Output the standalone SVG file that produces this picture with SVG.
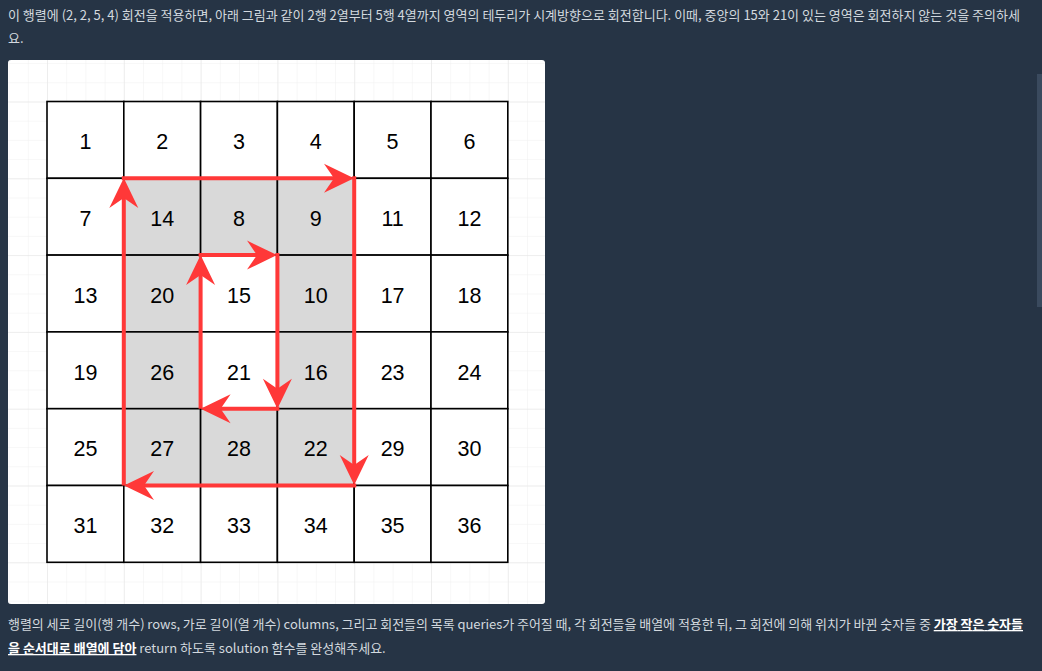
<svg xmlns="http://www.w3.org/2000/svg" width="1042" height="671" viewBox="0 0 1042 671">
<style>
.para{font-family:"Noto Sans CJK KR","Noto Sans",sans-serif;font-size:13px;fill:#d3d9df}
.strong{font-weight:bold;fill:#ffffff;text-decoration:underline}
.num{font-family:"Liberation Sans",Arial,sans-serif;font-size:21.5px;fill:#000;text-anchor:middle}
.cell{stroke:#000;stroke-width:1.6}
.arrow{stroke:#ff3838;stroke-width:4;fill:none}
</style>
<defs>
<pattern id="minor" patternUnits="userSpaceOnUse" x="47" y="101.5" width="19.2" height="19.2">
<path d="M0,0 H19.2 M0,0 V19.2" stroke="#efefef" stroke-width="1" fill="none"/>
</pattern>
<pattern id="major" patternUnits="userSpaceOnUse" x="47" y="101.5" width="76.8" height="76.8">
<path d="M0,0 H76.8 M0,0 V76.8" stroke="#e3e3e3" stroke-width="1" fill="none"/>
</pattern>
<clipPath id="panelClip"><rect x="8" y="60" width="537" height="544" rx="3"/></clipPath>
<marker id="head" markerUnits="userSpaceOnUse" viewBox="-30 -16 42 32" markerWidth="42" markerHeight="32" refX="0" refY="0" orient="auto" overflow="visible">
<path d="M8,0 L-22,-14.5 L-12,0 L-22,14.5 Z" fill="#ff3838"/>
</marker>
</defs>
<rect width="1042" height="671" fill="#263445"/>
<rect x="1037" y="74" width="5" height="233" fill="#3a4a5e"/>
<text class="para" x="8" y="20">이 행렬에 (2, 2, 5, 4) 회전을 적용하면, 아래 그림과 같이 2행 2열부터 5행 4열까지 영역의 테두리가 시계방향으로 회전합니다. 이때, 중앙의 15와 21이 있는 영역은 회전하지 않는 것을 주의하세</text>
<text class="para" x="8" y="43">요.</text>
<g id="panel">
<rect x="8" y="60" width="537" height="544" rx="3" fill="#ffffff"/>
<g clip-path="url(#panelClip)">
<rect x="8" y="60" width="537" height="544" fill="url(#minor)"/>
<rect x="8" y="60" width="537" height="544" fill="url(#major)"/>
</g>
</g>
<g id="cells">
<g id="r1">
<rect class="cell" x="47" y="101.5" width="76.8" height="76.8" fill="#fff"/><rect class="cell" x="123.8" y="101.5" width="76.8" height="76.8" fill="#fff"/><rect class="cell" x="200.6" y="101.5" width="76.8" height="76.8" fill="#fff"/><rect class="cell" x="277.4" y="101.5" width="76.8" height="76.8" fill="#fff"/><rect class="cell" x="354.2" y="101.5" width="76.8" height="76.8" fill="#fff"/><rect class="cell" x="431" y="101.5" width="76.8" height="76.8" fill="#fff"/>
</g>
<g id="r2">
<rect class="cell" x="47" y="178.3" width="76.8" height="76.8" fill="#fff"/><rect class="cell" x="123.8" y="178.3" width="76.8" height="76.8" fill="#d9d9d9"/><rect class="cell" x="200.6" y="178.3" width="76.8" height="76.8" fill="#d9d9d9"/><rect class="cell" x="277.4" y="178.3" width="76.8" height="76.8" fill="#d9d9d9"/><rect class="cell" x="354.2" y="178.3" width="76.8" height="76.8" fill="#fff"/><rect class="cell" x="431" y="178.3" width="76.8" height="76.8" fill="#fff"/>
</g>
<g id="r3">
<rect class="cell" x="47" y="255.1" width="76.8" height="76.8" fill="#fff"/><rect class="cell" x="123.8" y="255.1" width="76.8" height="76.8" fill="#d9d9d9"/><rect class="cell" x="200.6" y="255.1" width="76.8" height="76.8" fill="#fff"/><rect class="cell" x="277.4" y="255.1" width="76.8" height="76.8" fill="#d9d9d9"/><rect class="cell" x="354.2" y="255.1" width="76.8" height="76.8" fill="#fff"/><rect class="cell" x="431" y="255.1" width="76.8" height="76.8" fill="#fff"/>
</g>
<g id="r4">
<rect class="cell" x="47" y="331.9" width="76.8" height="76.8" fill="#fff"/><rect class="cell" x="123.8" y="331.9" width="76.8" height="76.8" fill="#d9d9d9"/><rect class="cell" x="200.6" y="331.9" width="76.8" height="76.8" fill="#fff"/><rect class="cell" x="277.4" y="331.9" width="76.8" height="76.8" fill="#d9d9d9"/><rect class="cell" x="354.2" y="331.9" width="76.8" height="76.8" fill="#fff"/><rect class="cell" x="431" y="331.9" width="76.8" height="76.8" fill="#fff"/>
</g>
<g id="r5">
<rect class="cell" x="47" y="408.7" width="76.8" height="76.8" fill="#fff"/><rect class="cell" x="123.8" y="408.7" width="76.8" height="76.8" fill="#d9d9d9"/><rect class="cell" x="200.6" y="408.7" width="76.8" height="76.8" fill="#d9d9d9"/><rect class="cell" x="277.4" y="408.7" width="76.8" height="76.8" fill="#d9d9d9"/><rect class="cell" x="354.2" y="408.7" width="76.8" height="76.8" fill="#fff"/><rect class="cell" x="431" y="408.7" width="76.8" height="76.8" fill="#fff"/>
</g>
<g id="r6">
<rect class="cell" x="47" y="485.5" width="76.8" height="76.8" fill="#fff"/><rect class="cell" x="123.8" y="485.5" width="76.8" height="76.8" fill="#fff"/><rect class="cell" x="200.6" y="485.5" width="76.8" height="76.8" fill="#fff"/><rect class="cell" x="277.4" y="485.5" width="76.8" height="76.8" fill="#fff"/><rect class="cell" x="354.2" y="485.5" width="76.8" height="76.8" fill="#fff"/><rect class="cell" x="431" y="485.5" width="76.8" height="76.8" fill="#fff"/>
</g>
</g>
<g id="numbers">
<text class="num" x="85.4" y="149.2">1</text><text class="num" x="162.2" y="149.2">2</text><text class="num" x="239" y="149.2">3</text><text class="num" x="315.8" y="149.2">4</text><text class="num" x="392.6" y="149.2">5</text><text class="num" x="469.4" y="149.2">6</text>
<text class="num" x="85.4" y="226">7</text><text class="num" x="162.2" y="226">14</text><text class="num" x="239" y="226">8</text><text class="num" x="315.8" y="226">9</text><text class="num" x="392.6" y="226">11</text><text class="num" x="469.4" y="226">12</text>
<text class="num" x="85.4" y="302.8">13</text><text class="num" x="162.2" y="302.8">20</text><text class="num" x="239" y="302.8">15</text><text class="num" x="315.8" y="302.8">10</text><text class="num" x="392.6" y="302.8">17</text><text class="num" x="469.4" y="302.8">18</text>
<text class="num" x="85.4" y="379.6">19</text><text class="num" x="162.2" y="379.6">26</text><text class="num" x="239" y="379.6">21</text><text class="num" x="315.8" y="379.6">16</text><text class="num" x="392.6" y="379.6">23</text><text class="num" x="469.4" y="379.6">24</text>
<text class="num" x="85.4" y="456.4">25</text><text class="num" x="162.2" y="456.4">27</text><text class="num" x="239" y="456.4">28</text><text class="num" x="315.8" y="456.4">22</text><text class="num" x="392.6" y="456.4">29</text><text class="num" x="469.4" y="456.4">30</text>
<text class="num" x="85.4" y="533.2">31</text><text class="num" x="162.2" y="533.2">32</text><text class="num" x="239" y="533.2">33</text><text class="num" x="315.8" y="533.2">34</text><text class="num" x="392.6" y="533.2">35</text><text class="num" x="469.4" y="533.2">36</text>
</g>
<g id="connectors">
<path class="arrow" d="M123.8,485.5 V186" marker-end="url(#head)"/>
<path class="arrow" d="M121.8,178.3 H346" marker-end="url(#head)"/>
<path class="arrow" d="M354.2,176.3 V477" marker-end="url(#head)"/>
<path class="arrow" d="M356.2,485.5 H132" marker-end="url(#head)"/>
<path class="arrow" d="M200.6,408.7 V263" marker-end="url(#head)"/>
<path class="arrow" d="M198.6,255.1 H269" marker-end="url(#head)"/>
<path class="arrow" d="M277.4,253.1 V400.7" marker-end="url(#head)"/>
<path class="arrow" d="M279.4,408.7 H208.6" marker-end="url(#head)"/>
</g>
<text class="para" x="8" y="629" textLength="1015" lengthAdjust="spacing">행렬의 세로 길이(행 개수) rows, 가로 길이(열 개수) columns, 그리고 회전들의 목록 queries가 주어질 때, 각 회전들을 배열에 적용한 뒤, 그 회전에 의해 위치가 바뀐 숫자들 중 <tspan class="strong">가장 작은 숫자들</tspan></text>
<text class="para" x="8" y="653"><tspan class="strong">을 순서대로 배열에 담아</tspan> return 하도록 solution 함수를 완성해주세요.</text>
</svg>
